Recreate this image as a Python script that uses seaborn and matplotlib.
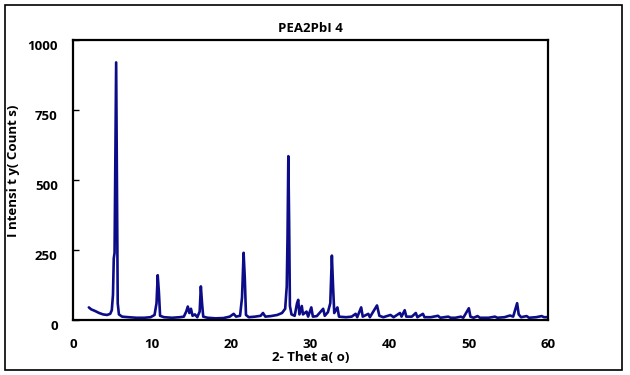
import numpy as np
import pandas as pd
import matplotlib
matplotlib.use("Agg")
import matplotlib.pyplot as plt
import matplotlib.transforms as mtransforms
import seaborn as sns

# XRD trace (2-theta in degrees, intensity in counts)
two_theta = [2.0, 2.3, 2.8, 3.3, 3.8, 4.3, 4.7, 4.9, 5.05, 5.15, 5.25, 5.35, 5.45, 5.55, 5.65, 5.8,
             6.2, 7.0, 8.0, 9.0, 9.8, 10.3, 10.55, 10.7, 10.85, 11.0, 11.5, 12.5, 13.5, 14.0, 14.3,
             14.5, 14.7, 14.9, 15.1, 15.4, 15.7, 16.0, 16.15, 16.3, 16.45, 17.0, 18.0, 19.0, 19.8,
             20.3, 20.6, 21.1, 21.35, 21.55, 21.7, 21.85, 22.2, 23.0, 23.7, 24.0, 24.3, 25.0, 25.8,
             26.4, 26.8, 27.0, 27.1, 27.2, 27.3, 27.4, 27.6, 28.0, 28.3, 28.45, 28.6, 28.9, 29.05,
             29.5, 29.7, 30.1, 30.3, 30.8, 31.6, 31.8, 32.2, 32.5, 32.7, 32.85, 33.0, 33.4, 33.6,
             34.5, 35.2, 35.7, 35.9, 36.4, 36.6, 37.3, 37.5, 38.4, 38.7, 39.2, 40.1, 40.5, 41.3,
             41.5, 41.9, 42.1, 42.8, 43.3, 43.5, 44.2, 44.4, 45.2, 46.1, 46.4, 47.4, 47.7, 48.3,
             49.0, 49.3, 50.0, 50.2, 50.6, 51.1, 51.4, 52.5, 53.3, 53.6, 54.5, 55.2, 55.6, 56.1,
             56.3, 56.6, 57.3, 57.6, 58.5, 59.2, 59.5, 60.0]
counts = [45, 38, 32, 25, 20, 18, 22, 35, 90, 220, 240, 600, 920, 500, 60, 20,
          12, 10, 8, 8, 10, 18, 60, 160, 100, 15, 10, 8, 10, 12, 30,
          48, 25, 40, 15, 20, 10, 30, 120, 60, 12, 8, 6, 7, 12,
          22, 12, 15, 80, 240, 150, 18, 10, 12, 15, 25, 12, 14, 18,
          25, 40, 120, 300, 585, 350, 50, 20, 15, 60, 72, 20, 50, 20,
          30, 12, 45, 12, 14, 40, 15, 28, 60, 230, 120, 25, 45, 12,
          10, 12, 22, 10, 45, 12, 22, 10, 52, 15, 10, 18, 10, 25,
          12, 35, 12, 12, 25, 10, 22, 10, 10, 15, 8, 12, 8, 8,
          12, 8, 42, 12, 8, 14, 8, 8, 12, 8, 10, 16, 12, 60,
          20, 10, 14, 8, 10, 14, 10, 10]

title = "PEA2PbI 4"
x_label = "2- Thet a( o)"
y_label = "I ntensi t y( Count s)"
x_ticks = [0, 10, 20, 30, 40, 50, 60]
y_ticks = [0, 250, 500, 750, 1000]

df = pd.DataFrame({"two_theta": two_theta, "counts": counts})

sns.set_style("white")
plt.rcParams['font.family'] = ['Open Sans', 'DejaVu Sans']
plt.rcParams['text.color'] = 'black'
plt.rcParams['axes.labelcolor'] = 'black'
plt.rcParams['xtick.color'] = 'black'
plt.rcParams['ytick.color'] = 'black'

fig = plt.figure(figsize=(6.3, 3.75), dpi=100)
ax = fig.add_axes([73 / 630, 1 - 320 / 375, 475 / 630, 280 / 375])

sns.lineplot(data=df, x="two_theta", y="counts", color="#0c0c88", linewidth=1.9, ax=ax)

ax.set_xlim(0, 60)
ax.set_ylim(0, 1000)
ax.set_xticks(x_ticks)
ax.set_yticks(y_ticks)
ax.tick_params(axis="x", length=0, pad=13, labelsize=9.5, labelcolor="black")
ax.tick_params(axis="y", direction="in", length=4, width=1, pad=11, labelsize=9.5, left=True,
               color="black", labelcolor="black")
for lbl in ax.get_xticklabels() + ax.get_yticklabels():
    lbl.set_fontweight("bold")
# Excel-style labels sit a little below their gridline
shift = mtransforms.ScaledTranslation(0, -5 / 100, fig.dpi_scale_trans)
for lbl in ax.get_yticklabels():
    lbl.set_transform(lbl.get_transform() + shift)
for sp in ax.spines.values():
    sp.set_color("black")
    sp.set_linewidth(1.6)

ax.set_title(title, fontsize=9.5, fontweight="bold", pad=6, color="black")
ax.set_xlabel(x_label, fontsize=9.5, fontweight="bold", labelpad=0, color="black")
ax.set_ylabel(y_label, fontsize=9.5, fontweight="bold", color="black")
ax.yaxis.set_label_coords(-53 / 475, (320 - 171) / 280)

# outer chart border
fig.patches.append(plt.Rectangle((5 / 630, 5 / 375), 617 / 630, 365 / 375, transform=fig.transFigure,
                                 fill=False, edgecolor="black", linewidth=1.2))

fig.savefig("out.png", dpi=100)
